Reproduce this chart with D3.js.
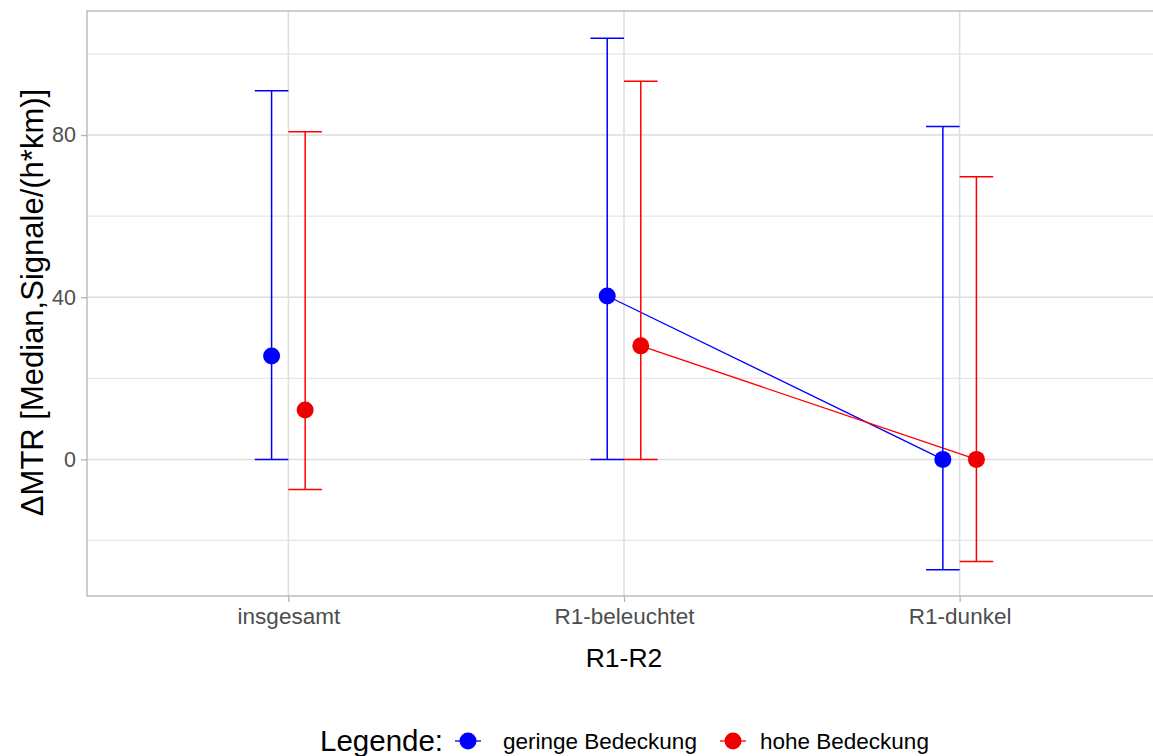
<!DOCTYPE html>
<html>
<head>
<meta charset="utf-8">
<script src="https://cdn.jsdelivr.net/npm/d3@7"></script>
<style>
  html, body { margin: 0; padding: 0; background: #fff; }
  svg { display: block; font-family: "Liberation Sans", Arial, sans-serif; }
</style>
</head>
<body>
<svg id="chart" width="1153" height="756"></svg>
<script>
// ---- data ----
const categories = ["insgesamt", "R1-beleuchtet", "R1-dunkel"];
const groups = ["geringe Bedeckung", "hohe Bedeckung"];
const geringMedian = [25.5, 40.3, 0];
const geringLow    = [0, 0, -27.2];
const geringHigh   = [90.9, 103.9, 82.1];
const hoheMedian   = [12.2, 28.0, 0];
const hoheLow      = [-7.4, 0, -25.2];
const hoheHigh     = [80.8, 93.3, 69.7];
const lineCategories = ["R1-beleuchtet", "R1-dunkel"];
const yTicks = [0, 40, 80];
const yMinorTicks = [-20, 20, 60, 100];

const colors = { "geringe Bedeckung": "#0000ff", "hohe Bedeckung": "#ee0000" };
const lineColors = { "geringe Bedeckung": "#0000ff", "hohe Bedeckung": "#ff0000" };

const series = [
  { group: groups[0], med: geringMedian, lo: geringLow, hi: geringHigh, dodge: -1 },
  { group: groups[1], med: hoheMedian, lo: hoheLow, hi: hoheHigh, dodge: 1 }
];

// ---- layout ----
const svg = d3.select("#chart");
const panel = { left: 87, top: 11, right: 1161, bottom: 596 };

const x = d3.scalePoint().domain(categories).range([panel.left, panel.right]).padding(0.6);
const y = d3.scaleLinear().domain([-33.7, 110.6]).range([panel.bottom, panel.top]);
const dodgeW = x.step() * 0.1;
const xd = (cat, d) => x(cat) + d * dodgeW / 2;

// grid
const g = svg.append("g");
g.selectAll("line.minor").data(yMinorTicks).join("line")
  .attr("x1", panel.left).attr("x2", panel.right)
  .attr("y1", d => y(d)).attr("y2", d => y(d))
  .attr("stroke", "#e6e6e6").attr("stroke-width", 1.2);
g.selectAll("line.major").data(yTicks).join("line")
  .attr("x1", panel.left).attr("x2", panel.right)
  .attr("y1", d => y(d)).attr("y2", d => y(d))
  .attr("stroke", "#dedede").attr("stroke-width", 1.5);
g.selectAll("line.vmajor").data(categories).join("line")
  .attr("x1", d => x(d)).attr("x2", d => x(d))
  .attr("y1", panel.top).attr("y2", panel.bottom)
  .attr("stroke", "#dedede").attr("stroke-width", 1.5);

// connecting lines
const lineGen = d3.line().x(d => d.x).y(d => d.y);
series.forEach(s => {
  const pts = lineCategories.map(c => {
    const i = categories.indexOf(c);
    return { x: xd(c, s.dodge), y: y(s.med[i]) };
  });
  svg.append("path").attr("d", lineGen(pts))
    .attr("fill", "none").attr("stroke", lineColors[s.group]).attr("stroke-width", 1.3);
});

// error bars
series.forEach(s => {
  const eg = svg.append("g").attr("stroke", lineColors[s.group]).attr("stroke-width", 1.5).attr("fill", "none");
  categories.forEach((c, i) => {
    const cx = xd(c, s.dodge);
    eg.append("line").attr("x1", cx).attr("x2", cx).attr("y1", y(s.lo[i])).attr("y2", y(s.hi[i]));
    eg.append("line").attr("x1", cx - dodgeW / 2).attr("x2", cx + dodgeW / 2).attr("y1", y(s.hi[i])).attr("y2", y(s.hi[i]));
    eg.append("line").attr("x1", cx - dodgeW / 2).attr("x2", cx + dodgeW / 2).attr("y1", y(s.lo[i])).attr("y2", y(s.lo[i]));
  });
});

// points
series.forEach(s => {
  svg.append("g").selectAll("circle").data(categories).join("circle")
    .attr("cx", c => xd(c, s.dodge))
    .attr("cy", (c, i) => y(s.med[i]))
    .attr("r", 8.5)
    .attr("fill", colors[s.group]);
});

// panel border
svg.append("rect").attr("x", panel.left).attr("y", panel.top)
  .attr("width", panel.right - panel.left).attr("height", panel.bottom - panel.top)
  .attr("fill", "none").attr("stroke", "#b3b3b3").attr("stroke-width", 1.3);

// axes
const yAxis = d3.axisLeft(y).tickValues(yTicks).tickSize(6).tickPadding(5);
const ya = svg.append("g").attr("transform", `translate(${panel.left},0)`).call(yAxis);
ya.select(".domain").remove();
ya.selectAll("line").attr("stroke", "#b3b3b3").attr("stroke-width", 1.3);
ya.selectAll("text").attr("fill", "#4d4d4d").attr("font-size", 21.5).attr("font-family", "Liberation Sans, Arial, sans-serif");

const xAxis = d3.axisBottom(x).tickSize(6).tickPadding(6);
const xa = svg.append("g").attr("transform", `translate(0,${panel.bottom})`).call(xAxis);
xa.select(".domain").remove();
xa.selectAll("line").attr("stroke", "#b3b3b3").attr("stroke-width", 1.3);
xa.selectAll("text").attr("fill", "#4d4d4d").attr("font-size", 22.5).attr("font-family", "Liberation Sans, Arial, sans-serif");

// axis titles
svg.append("text").attr("x", x("R1-beleuchtet")).attr("y", 667)
  .attr("text-anchor", "middle").attr("font-size", 26.5).attr("fill", "#000").text("R1-R2");
svg.append("text").attr("transform", `translate(43,${(panel.top + panel.bottom) / 2 - 1}) rotate(-90)`)
  .attr("text-anchor", "middle").attr("font-size", 31).attr("fill", "#000")
  .text("ΔMTR [Median,Signale/(h*km)]");

// legend
const lg = svg.append("g");
const ly = 741;
lg.append("text").attr("x", 320).attr("y", ly + 10).attr("font-size", 29.5).attr("fill", "#000").text("Legende:");
const keyX = [468, 733];
const labX = [503, 760];
series.forEach((s, i) => {
  lg.append("line").attr("x1", keyX[i] - 13).attr("x2", keyX[i] + 13).attr("y1", ly).attr("y2", ly)
    .attr("stroke", lineColors[s.group]).attr("stroke-width", 1.3);
  lg.append("circle").attr("cx", keyX[i]).attr("cy", ly).attr("r", 8.5).attr("fill", colors[s.group]);
  lg.append("text").attr("x", labX[i]).attr("y", ly + 8).attr("font-size", 22.5).attr("fill", "#000").text(s.group);
});
</script>
</body>
</html>
